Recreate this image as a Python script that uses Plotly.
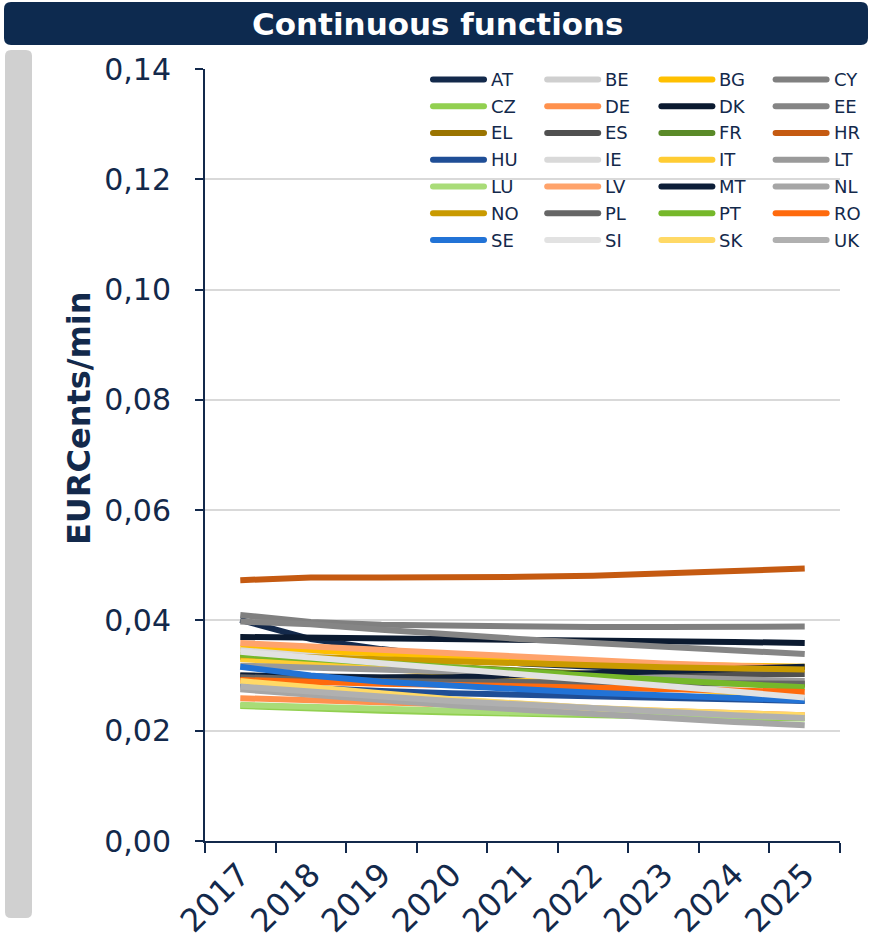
import plotly.graph_objects as go

# Years on the category axis
years = ["2017", "2018", "2019", "2020", "2021", "2022", "2023", "2024", "2025"]

# Cost per country, EURCents/min
AT = [0.0401, 0.0366, 0.0348, 0.0333, 0.0322, 0.0316, 0.0313, 0.0313, 0.0315]
BE = [0.0279, 0.0271, 0.0263, 0.0255, 0.0248, 0.0241, 0.0235, 0.0229, 0.0224]
BG = [0.0350, 0.0345, 0.0340, 0.0335, 0.0330, 0.0325, 0.0320, 0.0318, 0.0316]
CY = [0.0410, 0.0397, 0.0392, 0.0390, 0.0389, 0.0388, 0.0388, 0.0388, 0.0389]
CZ = [0.0245, 0.0240, 0.0236, 0.0233, 0.0230, 0.0228, 0.0226, 0.0224, 0.0222]
DE = [0.0259, 0.0255, 0.0251, 0.0247, 0.0243, 0.0239, 0.0235, 0.0231, 0.0228]
DK = [0.0370, 0.0369, 0.0368, 0.0367, 0.0366, 0.0365, 0.0363, 0.0361, 0.0359]
EE = [0.0398, 0.0393, 0.0383, 0.0374, 0.0366, 0.0359, 0.0352, 0.0345, 0.0339]
EL = [0.0333, 0.0327, 0.0321, 0.0315, 0.0309, 0.0303, 0.0297, 0.0291, 0.0285]
ES = [0.0300, 0.0298, 0.0297, 0.0298, 0.0299, 0.0300, 0.0301, 0.0302, 0.0303]
FR = [0.0335, 0.0328, 0.0321, 0.0314, 0.0307, 0.0300, 0.0294, 0.0288, 0.0282]
HR = [0.0473, 0.0478, 0.0478, 0.0478, 0.0479, 0.0481, 0.0485, 0.0489, 0.0494]
HU = [0.0283, 0.0277, 0.0272, 0.0268, 0.0265, 0.0262, 0.0259, 0.0257, 0.0254]
IE = [0.0346, 0.0336, 0.0326, 0.0316, 0.0306, 0.0295, 0.0284, 0.0273, 0.0262]
IT = [0.0330, 0.0321, 0.0312, 0.0303, 0.0295, 0.0287, 0.0279, 0.0268, 0.0258]
LT = [0.0318, 0.0314, 0.0310, 0.0306, 0.0303, 0.0300, 0.0297, 0.0293, 0.0290]
LU = [0.0247, 0.0243, 0.0239, 0.0236, 0.0233, 0.0231, 0.0228, 0.0226, 0.0224]
LV = [0.0359, 0.0353, 0.0346, 0.0339, 0.0334, 0.0328, 0.0322, 0.0318, 0.0313]
MT = [0.0300, 0.0297, 0.0296, 0.0297, 0.0300, 0.0304, 0.0308, 0.0312, 0.0316]
NL = [0.0275, 0.0265, 0.0255, 0.0246, 0.0238, 0.0230, 0.0223, 0.0216, 0.0210]
NO = [0.0337, 0.0333, 0.0329, 0.0325, 0.0322, 0.0318, 0.0315, 0.0313, 0.0311]
PL = [0.0297, 0.0293, 0.0290, 0.0289, 0.0288, 0.0287, 0.0286, 0.0285, 0.0285]
PT = [0.0338, 0.0330, 0.0322, 0.0314, 0.0306, 0.0299, 0.0292, 0.0285, 0.0279]
RO = [0.0292, 0.0288, 0.0285, 0.0283, 0.0281, 0.0279, 0.0276, 0.0273, 0.0270]
SE = [0.0316, 0.0300, 0.0289, 0.0281, 0.0275, 0.0269, 0.0264, 0.0260, 0.0255]
SI = [0.0343, 0.0333, 0.0323, 0.0313, 0.0303, 0.0293, 0.0282, 0.0271, 0.0260]
SK = [0.0290, 0.0280, 0.0268, 0.0257, 0.0248, 0.0241, 0.0236, 0.0232, 0.0228]
UK = [0.0280, 0.0270, 0.0262, 0.0254, 0.0247, 0.0240, 0.0234, 0.0228, 0.0223]

countries = ["AT", "BE", "BG", "CY", "CZ", "DE", "DK", "EE", "EL", "ES", "FR", "HR",
             "HU", "IE", "IT", "LT", "LU", "LV", "MT", "NL", "NO", "PL", "PT", "RO",
             "SE", "SI", "SK", "UK"]
values = [AT, BE, BG, CY, CZ, DE, DK, EE, EL, ES, FR, HR,
          HU, IE, IT, LT, LU, LV, MT, NL, NO, PL, PT, RO,
          SE, SI, SK, UK]
colors = ["#13294B", "#CFCFCF", "#FFC000", "#808080", "#92D050", "#FF914D", "#0B1A30", "#858585",
          "#9A7400", "#505050", "#5A8A28", "#C55A11", "#1F4E96", "#D9D9D9", "#FFCC33", "#9A9A9A",
          "#A9DC78", "#FFA36B", "#0D1E38", "#A6A6A6", "#C99A00", "#666666", "#76B82A", "#FF6A0D",
          "#2273D6", "#E2E2E2", "#FFD966", "#B0B0B0"]

NAVY = "#13294B"
W, H = 870, 947
L, R, T, B = 205, 30, 69, 106
PW, PH = W - L - R, H - T - B


def px(x):
    return (x - L) / PW


def py(y):
    return (H - B - y) / PH


def rounded(x0, y0, x1, y1, r):
    # rounded rectangle path in paper coordinates from pixel corners
    rx, ry = r / PW, r / PH
    a, b, c, d = px(x0), py(y0), px(x1), py(y1)
    return (f"M {a+rx},{b} L {c-rx},{b} Q {c},{b} {c},{b-ry} L {c},{d+ry} "
            f"Q {c},{d} {c-rx},{d} L {a+rx},{d} Q {a},{d} {a},{d+ry} "
            f"L {a},{b-ry} Q {a},{b} {a+rx},{b} Z")


fig = go.Figure()
for name, vals, col in zip(countries, values, colors):
    fig.add_trace(go.Scatter(x=years, y=vals, name=name, mode="lines",
                             line=dict(color=col, width=6), showlegend=False))

shapes = [
    dict(type="path", xref="paper", yref="paper", path=rounded(4, 2, 868, 45, 7),
         fillcolor="#0D2A4F", line=dict(width=0), layer="below"),
    dict(type="path", xref="paper", yref="paper", path=rounded(5, 50, 32, 918, 6),
         fillcolor="#D0D0D0", line=dict(width=0), layer="below"),
]
annotations = [
    dict(text="<b>Continuous functions</b>", xref="paper", yref="paper",
         x=px(438), y=py(23.5), xanchor="center", yanchor="middle", showarrow=False,
         font=dict(size=31, color="white", family="DejaVu Sans")),
    dict(text="<b>EURCents/min</b>", xref="paper", yref="paper",
         x=px(79), y=py(418), xanchor="center", yanchor="middle", showarrow=False,
         textangle=-90, font=dict(size=32, color=NAVY, family="DejaVu Sans")),
]

# Legend: 4 columns, row-major, sample bar followed by the country code
LEG_X0, LEG_Y0, COL_W, ROW_H, SAMPLE = 430, 79.5, 114.2, 26.75, 57
for i, (name, col) in enumerate(zip(countries, colors)):
    r, c = divmod(i, 4)
    x0 = LEG_X0 + c * COL_W
    yc = LEG_Y0 + r * ROW_H
    shapes.append(dict(type="path", xref="paper", yref="paper",
                       path=rounded(x0, yc - 3, x0 + SAMPLE, yc + 3, 3),
                       fillcolor=col, line=dict(width=0)))
    annotations.append(dict(text=name, xref="paper", yref="paper",
                            x=px(x0 + SAMPLE + 2), y=py(yc), xanchor="left", yanchor="middle",
                            showarrow=False, font=dict(size=18, color=NAVY)))

fig.update_layout(
    width=W, height=H,
    margin=dict(l=L, r=R, t=T, b=B, autoexpand=False),
    paper_bgcolor="white", plot_bgcolor="white",
    separators=", ",
    font=dict(family="DejaVu Sans", color=NAVY),
    showlegend=False,
    xaxis=dict(type="category", range=[-0.5, 8.5], tickson="boundaries",
               automargin=False,
               showline=True, linecolor=NAVY, linewidth=2,
               ticks="outside", ticklen=10, tickcolor=NAVY, tickwidth=2,
               tickangle=-45, tickfont=dict(size=32, color=NAVY),
               showgrid=False, zeroline=False),
    yaxis=dict(range=[0, 0.14], dtick=0.02, tickformat=".2f",
               automargin=False,
               showline=True, linecolor=NAVY, linewidth=2,
               ticks="outside", ticklen=8, tickcolor=NAVY, tickwidth=2,
               ticklabelstandoff=18,
               tickfont=dict(size=30, color=NAVY),
               showgrid=True, gridcolor="#D9D9D9", gridwidth=1.5, zeroline=False),
    shapes=shapes,
    annotations=annotations,
)

fig.write_html("out.html")
